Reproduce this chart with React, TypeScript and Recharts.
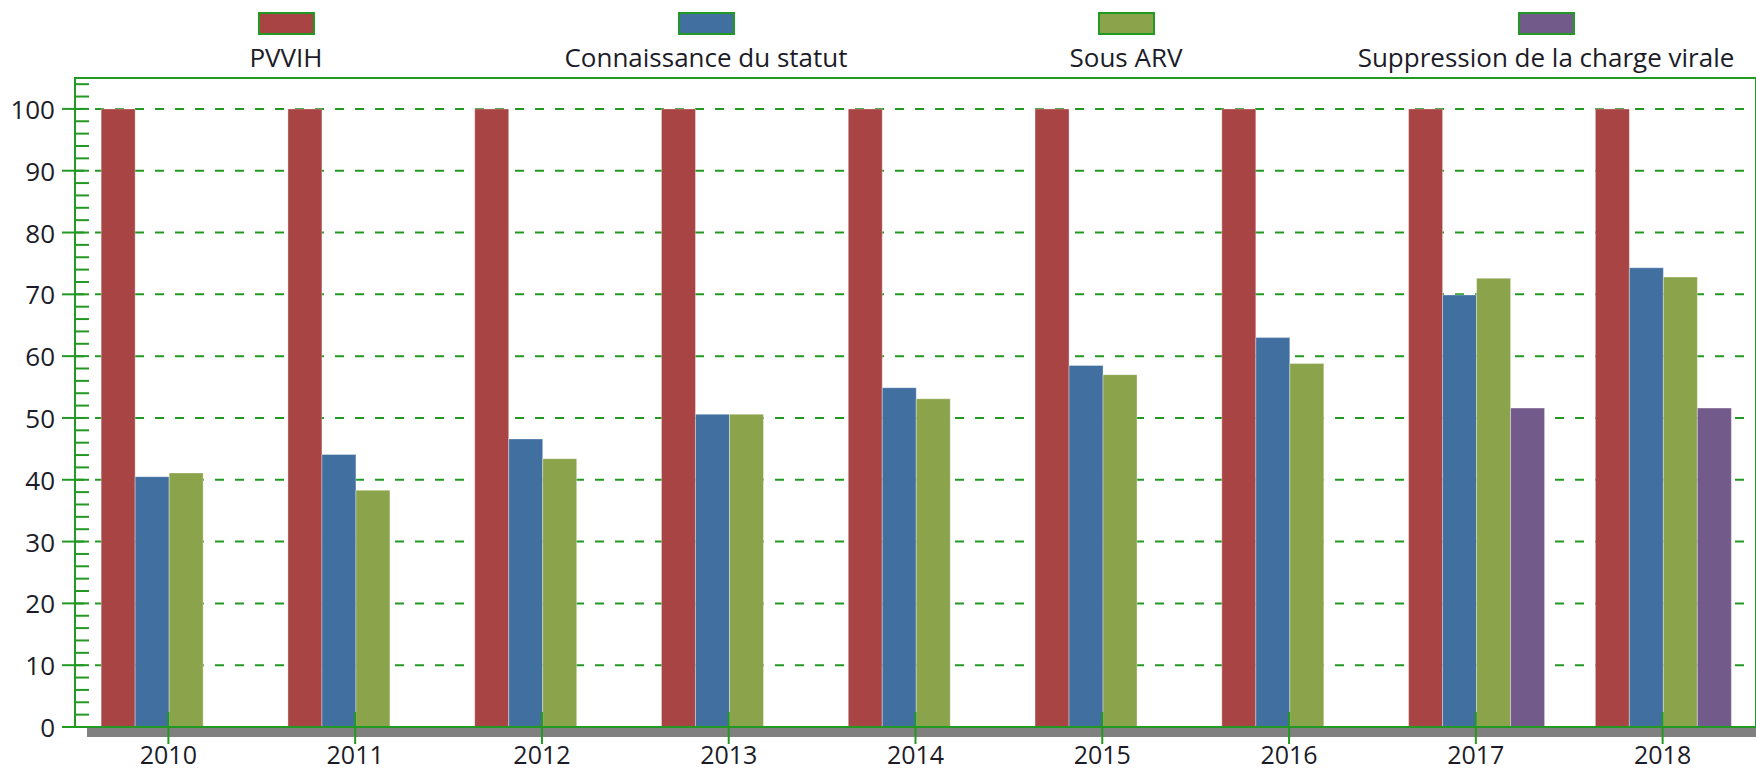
import React from "react";
import {
  BarChart,
  Bar,
  XAxis,
  YAxis,
  CartesianGrid,
  Legend,
  ReferenceArea,
} from "recharts";

const years = ["2010", "2011", "2012", "2013", "2014", "2015", "2016", "2017", "2018"];
const pvvih = [100, 100, 100, 100, 100, 100, 100, 100, 100];
const connaissance = [40.5, 44.1, 46.6, 50.6, 54.9, 58.5, 63.0, 69.9, 74.3];
const sousArv = [41.1, 38.3, 43.4, 50.6, 53.1, 57.0, 58.8, 72.6, 72.8];
const suppression = [null, null, null, null, null, null, null, 51.6, 51.6];

const yTicks = Array.from({ length: 53 }, (_, i) => i * 2);
const gridValues = [10, 20, 30, 40, 50, 60, 70, 80, 90, 100];

const series = [
  { key: "pvvih", name: "PVVIH", color: "#a94444" },
  { key: "connaissance", name: "Connaissance du statut", color: "#416fa0" },
  { key: "sousArv", name: "Sous ARV", color: "#8ba34b" },
  { key: "suppression", name: "Suppression de la charge virale", color: "#725a8a" },
];

const data = years.map((year, i) => ({
  year,
  pvvih: pvvih[i],
  connaissance: connaissance[i],
  sousArv: sousArv[i],
  suppression: suppression[i],
}));

const GREEN = "#229922";
const FONT = "'Open Sans', sans-serif";
const TEXT = "#1c1c28";

const YTick = (props: any) => {
  const { x, y, payload } = props;
  const v = payload.value as number;
  const major = v % 10 === 0;
  return (
    <g>
      <line x1={major ? x - 13 : x} x2={x + 14} y1={y} y2={y} stroke={GREEN} strokeWidth={2} />
      {major && (
        <text x={x - 20} y={y + 10} textAnchor="end" fontSize={26} fontFamily={FONT} fill={TEXT}>
          {v}
        </text>
      )}
    </g>
  );
};

const XTick = (props: any) => {
  const { x, y, payload } = props;
  return (
    <g>
      <line x1={x} x2={x} y1={y - 15} y2={y + 17} stroke={GREEN} strokeWidth={2} />
      <text x={x} y={y + 37} textAnchor="middle" fontSize={25} fontFamily={FONT} fill={TEXT}>
        {payload.value}
      </text>
    </g>
  );
};

// legend drawn in series order (recharts sorts payload by name otherwise)
const renderLegend = () => (
  <div style={{ position: "relative", width: 1756, height: 78 }}>
    {series.map((s, i) => (
      <div
        key={s.key}
        style={{ position: "absolute", left: 76 + i * 420, top: 0, width: 420, height: 78 }}
      >
        <div
          style={{
            position: "absolute",
            left: 210 - 28,
            top: 12,
            width: 53,
            height: 19,
            background: s.color,
            border: `2px solid ${GREEN}`,
          }}
        />
        <div
          style={{
            position: "absolute",
            left: 0,
            width: 420,
            top: 44,
            textAlign: "center",
            fontFamily: FONT,
            fontSize: 26,
            lineHeight: "26px",
            color: TEXT,
            whiteSpace: "nowrap",
          }}
        >
          {s.name}
        </div>
      </div>
    ))}
  </div>
);

export default function App() {
  return (
    <div style={{ position: "absolute", left: 0, top: 0, width: 1756, height: 772, background: "#fff" }}>
      <div
        style={{
          position: "absolute",
          left: 87,
          top: 727,
          width: 1756 - 87,
          height: 10,
          background: "#808080",
        }}
      />
      <div style={{ position: "absolute", left: 0, top: 0 }}>
        <BarChart
          width={1756}
          height={772}
          data={data}
          margin={{ top: 0, right: 0, left: 0, bottom: 0 }}
          barCategoryGap="14%"
          barGap={0}
        >
          <CartesianGrid
            horizontal
            vertical={false}
            horizontalValues={gridValues}
            stroke={GREEN}
            strokeWidth={2}
            strokeDasharray="9 11"
          />
          <Legend verticalAlign="top" content={renderLegend} wrapperStyle={{ left: 0, top: 0, width: 1756 }} />
          {series.map((s) => (
            <Bar
              key={s.key}
              dataKey={s.key}
              name={s.name}
              fill={s.color}
              stroke="#ffffff"
              strokeOpacity={0.35}
              strokeWidth={1}
              isAnimationActive={false}
            />
          ))}
          <ReferenceArea y1={0} y2={105} fill="none" fillOpacity={0} stroke={GREEN} strokeWidth={2} />
          <YAxis
            domain={[0, 105]}
            ticks={yTicks}
            interval={0}
            width={75}
            tickSize={0}
            tickMargin={0}
            tickLine={false}
            axisLine={{ stroke: GREEN, strokeWidth: 2 }}
            tick={<YTick />}
          />
          <XAxis
            dataKey="year"
            height={45}
            tickSize={0}
            tickMargin={0}
            tickLine={false}
            axisLine={{ stroke: GREEN, strokeWidth: 2 }}
            tick={<XTick />}
            interval={0}
          />
        </BarChart>
      </div>
    </div>
  );
}
